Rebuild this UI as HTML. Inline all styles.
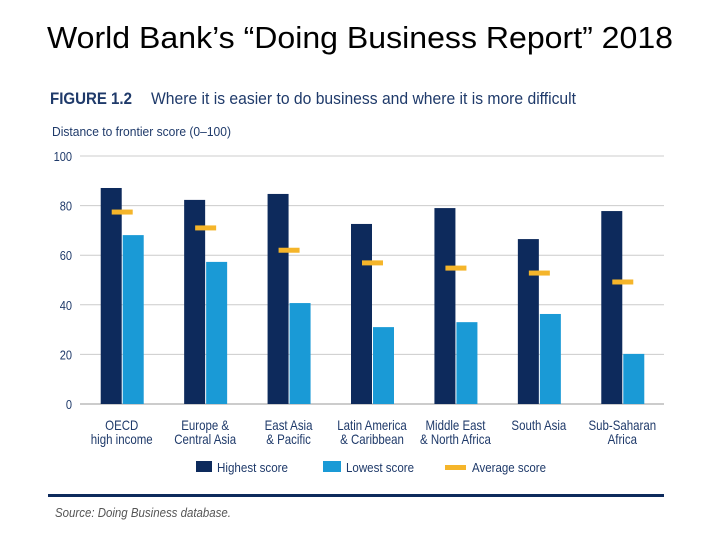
<!DOCTYPE html>
<html><head><meta charset="utf-8"><style>
body{margin:0;width:720px;height:540px;background:#fff;overflow:hidden;font-family:"Liberation Sans",sans-serif}
</style></head><body>
<svg width="720" height="540" xmlns="http://www.w3.org/2000/svg">
<text x="47" y="48" font-size="31" fill="#000" textLength="626" lengthAdjust="spacingAndGlyphs" font-family="Liberation Sans, sans-serif">World Bank’s “Doing Business Report” 2018</text>
<text x="50" y="104" font-size="17" font-weight="bold" fill="#1f3a6a" textLength="82" lengthAdjust="spacingAndGlyphs">FIGURE 1.2</text>
<text x="151" y="104" font-size="17" fill="#1f3a6a" textLength="425" lengthAdjust="spacingAndGlyphs">Where it is easier to do business and where it is more difficult</text>
<text x="52" y="136" font-size="13" fill="#1f3a6a" textLength="179" lengthAdjust="spacingAndGlyphs">Distance to frontier score (0–100)</text>
<g id="grid"></g><g id="bars"></g><g id="labels"></g>
<g font-size="13" fill="#1f3a6a">
<rect x="196" y="461" width="16" height="11" fill="#0d2a5c"/>
<text x="217" y="472" textLength="71" lengthAdjust="spacingAndGlyphs">Highest score</text>
<rect x="323" y="461" width="18" height="11" fill="#1a9ad6"/>
<text x="346" y="472" textLength="68" lengthAdjust="spacingAndGlyphs">Lowest score</text>
<rect x="445" y="465" width="21" height="5" fill="#f5b52a"/>
<text x="472" y="472" textLength="74" lengthAdjust="spacingAndGlyphs">Average score</text>
</g>
<rect x="48" y="494" width="616" height="3" fill="#0d2a5c"/>
<text x="55" y="517" font-size="13" font-style="italic" fill="#555" textLength="176" lengthAdjust="spacingAndGlyphs">Source: Doing Business database.</text>
</svg>
<script>
const categories1=["OECD","Europe &","East Asia","Latin America","Middle East","South Asia","Sub-Saharan"];
const categories2=["high income","Central Asia","& Pacific","& Caribbean","& North Africa","","Africa"];
const highest=[87.1,82.3,84.7,72.6,79,66.5,77.8];
const lowest=[68.1,57.3,40.7,31,33,36.3,20.2];
const average=[77.4,71,62,56.9,54.8,52.8,49.2];
const ticks=[0,20,40,60,80,100];
const NS="http://www.w3.org/2000/svg";
const y0=404,y100=156,x0=80,x1=664;
const yS=v=>y0-(v/100)*(y0-y100);
const step=(x1-x0)/categories1.length;
const xC=i=>x0+step*(i+0.5);
function mk(t,a,p){const e=document.createElementNS(NS,t);for(const k in a)e.setAttribute(k,a[k]);p.appendChild(e);return e;}
const grid=document.getElementById('grid'),bars=document.getElementById('bars'),labels=document.getElementById('labels');
ticks.forEach(v=>{
 const l=mk('line',{x1:x0,x2:x1,y1:yS(v),y2:yS(v),stroke:v===0?'#999':'#ccc','stroke-width':1},grid);
 
 
 const t=mk('text',{transform:`translate(72,${yS(v)+5}) scale(0.85,1)`,'text-anchor':'end','font-size':13,fill:'#1f3a6a'},grid);
 t.textContent=v;
 
 
});
const bw=21;
categories1.forEach((c,i)=>{
 const cx=xC(i);
 const h=mk('rect',{x:cx-bw,y:yS(highest[i]),width:bw,height:y0-yS(highest[i]),fill:'#0d2a5c'},bars);
 
 
 const lo=mk('rect',{x:cx+1,y:yS(lowest[i]),width:bw,height:y0-yS(lowest[i]),fill:'#1a9ad6'},bars);
 
 
 const a=mk('rect',{x:cx-10,y:yS(average[i])-2.5,width:21,height:5,fill:'#f5b52a'},bars);
 
 
 [categories1[i],categories2[i]].forEach((s,j)=>{
  const t=mk('text',{transform:`translate(${cx},${430+j*14}) scale(0.82,1)`,'text-anchor':'middle','font-size':14,fill:'#1f3a6a'},labels);
  t.textContent=s;
  
  
 });
});
</script>
</body></html>
